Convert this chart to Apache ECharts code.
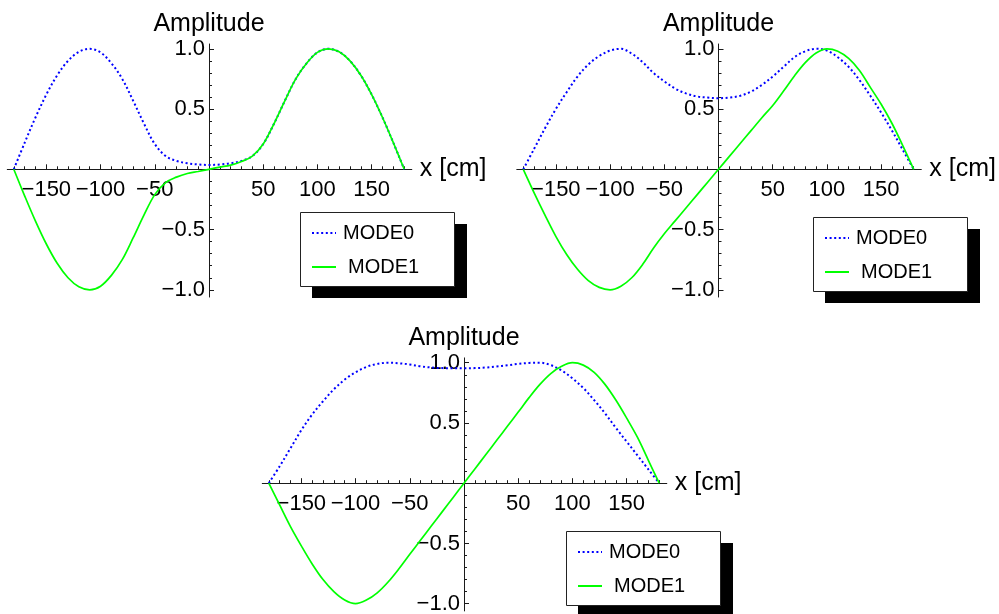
<!DOCTYPE html>
<html><head><meta charset="utf-8">
<script src="https://cdn.jsdelivr.net/npm/echarts@6/dist/echarts.min.js"></script>
<style>html,body{margin:0;padding:0;background:#fff}#c{width:999px;height:614px}</style>
</head><body><div id="c"></div>
<script>
// ---------- data ----------
const xs = [-180,-170,-160,-150,-140,-130,-120,-110,-100,-90,-80,-70,-60,-50,-40,-30,-20,-10,0,
            10,20,30,40,50,60,70,80,90,100,110,120,130,140,150,160,170,180];

const p1Mode0 = [0,0.22,0.43,0.62,0.78,0.9,0.975,1.0,0.97,0.88,0.75,0.57,0.38,0.21,0.11,0.07,0.05,0.04,0.036,
                 0.04,0.05,0.07,0.11,0.21,0.38,0.57,0.75,0.88,0.97,1.0,0.975,0.9,0.78,0.62,0.43,0.22,0];
const p1Mode1 = [0,-0.22,-0.43,-0.62,-0.78,-0.9,-0.975,-1.0,-0.97,-0.88,-0.75,-0.57,-0.38,-0.21,-0.11,-0.065,-0.035,-0.018,0,
                 0.018,0.035,0.065,0.11,0.21,0.38,0.57,0.75,0.88,0.97,1.0,0.975,0.9,0.78,0.62,0.43,0.22,0];

const p2Mode0 = [0,0.17,0.34,0.5,0.64,0.77,0.87,0.94,0.985,1.0,0.96,0.89,0.8,0.73,0.67,0.63,0.605,0.595,0.59,
                 0.595,0.61,0.645,0.7,0.77,0.85,0.93,0.98,1.0,0.985,0.93,0.85,0.74,0.61,0.47,0.32,0.16,0];
const p2Mode1 = [0,-0.195,-0.38,-0.556,-0.707,-0.83,-0.924,-0.98,-1.0,-0.97,-0.9,-0.79,-0.655,-0.535,-0.428,-0.321,-0.214,-0.107,0,
                 0.107,0.214,0.321,0.428,0.53,0.65,0.775,0.885,0.965,1.0,0.98,0.92,0.82,0.68,0.54,0.38,0.195,0];

const p3Mode0 = [0,0.14,0.29,0.44,0.57,0.68,0.78,0.86,0.92,0.965,0.99,1.0,0.995,0.985,0.97,0.96,0.955,0.953,0.953,
                 0.955,0.96,0.968,0.978,0.99,0.998,1.0,0.98,0.935,0.87,0.79,0.69,0.58,0.46,0.345,0.23,0.115,0];
const p3Mode1 = [0,-0.18,-0.36,-0.52,-0.67,-0.8,-0.9,-0.97,-1.0,-0.97,-0.91,-0.82,-0.71,-0.59,-0.472,-0.354,-0.236,-0.118,0,
                 0.118,0.236,0.354,0.472,0.59,0.71,0.82,0.91,0.97,1.0,0.98,0.92,0.82,0.69,0.54,0.38,0.19,0];

const seriesNames = ['MODE0', 'MODE1'];
const xAxisName = 'x [cm]';
const yAxisName = 'Amplitude';
const xMajorTicks = [-150,-100,-50,50,100,150];
const xMinorTicks = [-180,-170,-160,-150,-140,-130,-120,-110,-100,-90,-80,-70,-60,-50,-40,-30,-20,-10,
                     10,20,30,40,50,60,70,80,90,100,110,120,130,140,150,160,170,180];
const yMajorTicks = [-1.0,-0.5,0.5,1.0];
const yMinorTicks = [-1.0,-0.9,-0.8,-0.7,-0.6,-0.5,-0.4,-0.3,-0.2,-0.1,0.1,0.2,0.3,0.4,0.5,0.6,0.7,0.8,0.9,1.0];

const panels = [
  { m0: p1Mode0, m1: p1Mode1 },
  { m0: p2Mode0, m1: p2Mode1 },
  { m0: p3Mode0, m1: p3Mode1 }
];

// ---------- layout ----------
const XMIN = -186, XMAX = 187, YMIN = -1.06, YMAX = 1.04;
const SX = 1.0845, SY = 120.5;
const origins = [[209, 169.3], [718.5, 169.3], [464, 483.2]];
const legendBox = [[300, 212], [813, 217], [566, 531]];
const BOX_W = 154, BOX_H = 74, SHADOW = 12;
const FONT = 'Liberation Sans, Arial, Helvetica, sans-serif';
const AX = '#1a1a1a';
const X_OFF = -(0 - YMIN) * SY;   // move x axis up to y = 0
const Y_OFF = -(0 - XMIN) * SX;   // move y axis right to x = 0

function fmt(v, d) {
  const s = d ? Math.abs(v).toFixed(d) : String(Math.abs(v));
  return (v < 0 ? '\u2212' : '') + s;
}

const grid = [], xAxis = [], yAxis = [], series = [], legend = [], graphic = [];
origins.forEach(([ox, oy], g) => {
  grid.push({
    left: ox - (0 - XMIN) * SX,
    top: oy - YMAX * SY,
    width: (XMAX - XMIN) * SX,
    height: (YMAX - YMIN) * SY,
    containLabel: false,
    outerBoundsMode: 'none'
  });
  xAxis.push({
    type: 'value', gridIndex: g, min: XMIN, max: XMAX, position: 'bottom', offset: X_OFF,
    axisLine: { show: true, onZero: false, lineStyle: { color: AX, width: 1 } },
    axisTick: { show: true, inside: true, length: 5, customValues: xMajorTicks, lineStyle: { color: AX } },
    axisLabel: { show: true, customValues: xMajorTicks, margin: 10, color: '#000',
      fontFamily: FONT, fontSize: 22, formatter: v => fmt(v, 0) },
    splitLine: { show: false },
    name: xAxisName, nameLocation: 'end', nameGap: 8,
    nameTextStyle: { color: '#000', fontFamily: FONT, fontSize: 25 }
  });
  xAxis.push({
    type: 'value', gridIndex: g, min: XMIN, max: XMAX, position: 'bottom', offset: X_OFF,
    axisLine: { show: false, onZero: false },
    axisTick: { show: true, inside: true, length: 3, customValues: xMinorTicks, lineStyle: { color: AX } },
    axisLabel: { show: false }, splitLine: { show: false }
  });
  yAxis.push({
    type: 'value', gridIndex: g, min: YMIN, max: YMAX, position: 'left', offset: Y_OFF,
    axisLine: { show: true, onZero: false, lineStyle: { color: AX, width: 1 } },
    axisTick: { show: true, inside: true, length: 5, customValues: yMajorTicks, lineStyle: { color: AX } },
    axisLabel: { show: true, customValues: yMajorTicks, margin: 4, color: '#000',
      fontFamily: FONT, fontSize: 22, formatter: v => fmt(v, 1) },
    splitLine: { show: false },
    name: yAxisName, nameLocation: 'end', nameGap: 7,
    nameTextStyle: { color: '#000', fontFamily: FONT, fontSize: 25 }
  });
  yAxis.push({
    type: 'value', gridIndex: g, min: YMIN, max: YMAX, position: 'left', offset: Y_OFF,
    axisLine: { show: false, onZero: false },
    axisTick: { show: true, inside: true, length: 3, customValues: yMinorTicks, lineStyle: { color: AX } },
    axisLabel: { show: false }, splitLine: { show: false }
  });
  const p = panels[g];
  series.push({
    name: seriesNames[0], type: 'line', xAxisIndex: 2 * g, yAxisIndex: 2 * g,
    data: xs.map((x, i) => [x, p.m0[i]]),
    smooth: 0.35, symbol: 'none', clip: false,
    lineStyle: { color: '#0000ff', width: 2, type: [2, 2.6] },
    itemStyle: { color: '#0000ff' }
  });
  series.push({
    name: seriesNames[1], type: 'line', xAxisIndex: 2 * g, yAxisIndex: 2 * g,
    data: xs.map((x, i) => [x, p.m1[i]]),
    smooth: 0.35, symbol: 'none', clip: false,
    lineStyle: { color: '#00ff00', width: 1.7, type: 'solid' },
    itemStyle: { color: '#00ff00' }
  });
  const [bx, by] = legendBox[g];
  graphic.push({ type: 'rect', z: 20, silent: true,
    shape: { x: bx + SHADOW, y: by + SHADOW, width: BOX_W + 1, height: BOX_H },
    style: { fill: '#000' } });
  graphic.push({ type: 'rect', z: 21, silent: true,
    shape: { x: bx + 0.5, y: by + 0.5, width: BOX_W, height: BOX_H },
    style: { fill: '#fff', stroke: '#222', lineWidth: 1 } });
  legend.push({
    orient: 'vertical', left: bx, top: by, z: 30,
    padding: [11, 33, 9, 11], itemGap: 14, itemWidth: 24, itemHeight: 14,
    backgroundColor: 'transparent', borderWidth: 0,
    selectedMode: false,
    itemStyle: { opacity: 0 },
    textStyle: { color: '#000', fontFamily: FONT, fontSize: 20 },
    data: [
      { name: seriesNames[0], textStyle: { padding: [0, 0, 0, 2] } },
      { name: seriesNames[1], textStyle: { padding: [0, 0, 0, 7] } }
    ]
  });
});

const chart = echarts.init(document.getElementById('c'), null, { renderer: 'canvas' });
chart.setOption({ animation: false, backgroundColor: '#fff', grid, xAxis, yAxis, series, legend, graphic });
</script></body></html>
